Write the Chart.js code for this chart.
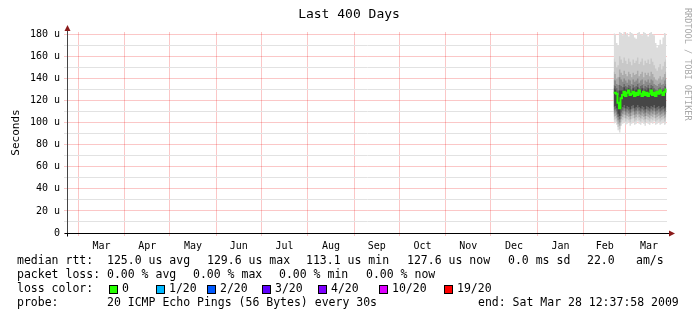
<!DOCTYPE html>
<html>
<head>
<meta charset="utf-8">
<script src="https://cdn.jsdelivr.net/npm/chart.js@4.4.0/dist/chart.umd.min.js"></script>
<style>
  body { margin: 0; background: #fff; }
  canvas { display: block; background: #fff; }
</style>
</head>
<body>
<canvas id="chart" width="697" height="321"></canvas>
<script>
// x axis: days counted from 1 Mar 2008
const xMin = -7.47
const xMax = 392.53
const yMax = 182

const monthStarts = [0, 31, 61, 92, 122, 153, 184, 214, 245, 275, 306, 337, 365, 396]
const monthLabels = ['Mar', 'Apr', 'May', 'Jun', 'Jul', 'Aug', 'Sep', 'Oct', 'Nov', 'Dec', 'Jan', 'Feb', 'Mar']

// sample days (21 Feb .. 28 Mar 2009)
const days = [357, 358, 359, 360, 361, 362, 363, 364, 365, 366, 367, 368, 369, 370, 371, 372, 373, 374,
  375, 376, 377, 378, 379, 380, 381, 382, 383, 384, 385, 386, 387, 388, 389, 390, 391, 392]

// median rtt (us)
const median = [127, 127, 126, 118, 113, 122, 125, 128, 124, 127, 129, 125, 126, 128, 124, 127, 125, 129,
  126, 124, 128, 125, 127, 124, 126, 129, 125, 127, 124, 128, 126, 129, 127, 125, 128, 130]

// smoke bands, outer to inner
const smoke1Hi = [181, 180, 172, 170, 182, 181, 179, 182, 180, 181, 178, 182, 181, 180, 177, 176, 181, 182,
  180, 179, 182, 181, 180, 178, 181, 182, 180, 179, 172, 168, 170, 175, 171, 177, 181, 180]
const smoke1Lo = [99, 100, 98, 93, 91, 97, 99, 100, 98, 99, 100, 97, 99, 100, 98, 99, 101, 99,
  98, 100, 99, 97, 100, 99, 98, 100, 99, 101, 98, 99, 100, 98, 99, 100, 98, 99]
const smoke2Hi = [158, 155, 150, 152, 160, 157, 154, 159, 156, 153, 158, 155, 152, 157, 154, 156, 159, 153,
  155, 158, 152, 156, 154, 157, 153, 158, 155, 152, 149, 147, 150, 153, 148, 151, 155, 157]
const smoke2Lo = [102, 103, 101, 96, 94, 100, 102, 104, 101, 103, 102, 100, 103, 104, 101, 102, 104, 102,
  101, 103, 102, 100, 103, 102, 101, 103, 102, 104, 101, 102, 103, 101, 102, 103, 101, 102]
const smoke3Hi = [146, 144, 140, 141, 148, 145, 143, 147, 144, 142, 146, 144, 141, 145, 143, 144, 147, 142,
  144, 146, 141, 145, 143, 145, 142, 146, 144, 141, 139, 138, 140, 142, 139, 141, 144, 146]
const smoke3Lo = [105, 106, 104, 99, 97, 103, 105, 107, 104, 106, 105, 103, 106, 107, 104, 105, 107, 105,
  104, 106, 105, 103, 106, 105, 104, 106, 105, 107, 104, 105, 106, 104, 105, 106, 104, 105]
const smoke4Hi = [139, 138, 135, 134, 141, 139, 137, 140, 138, 136, 139, 138, 135, 139, 137, 138, 140, 136,
  138, 139, 135, 138, 137, 139, 136, 139, 138, 135, 134, 133, 135, 136, 134, 135, 138, 140]
const smoke4Lo = [108, 109, 107, 102, 100, 106, 108, 110, 107, 109, 108, 106, 109, 110, 107, 108, 110, 108,
  107, 109, 108, 106, 109, 108, 107, 109, 108, 110, 107, 108, 109, 107, 108, 109, 107, 108]
const smoke5Hi = [134, 133, 131, 129, 134, 133, 132, 135, 133, 132, 134, 133, 130, 134, 132, 133, 135, 131,
  133, 134, 131, 133, 132, 134, 131, 134, 133, 131, 130, 129, 131, 132, 130, 131, 133, 135]
const smoke5Lo = [111, 112, 110, 105, 103, 109, 111, 113, 110, 112, 111, 109, 112, 113, 110, 111, 113, 111,
  110, 112, 111, 109, 112, 111, 110, 112, 111, 113, 110, 111, 112, 110, 111, 112, 110, 111]
const smoke6Hi = [131, 130, 128, 125, 129, 129, 129, 132, 130, 130, 131, 130, 128, 131, 129, 130, 132, 129,
  130, 131, 128, 130, 129, 131, 128, 131, 130, 128, 128, 127, 128, 129, 128, 129, 130, 132]
const smoke6Lo = [114, 115, 113, 108, 106, 112, 114, 116, 113, 115, 114, 112, 115, 116, 113, 114, 116, 114,
  113, 115, 114, 112, 115, 114, 113, 115, 114, 116, 113, 114, 115, 113, 114, 115, 113, 114]

const rttStats = ['125.0 us avg', '129.6 us max', '113.1 us min', '127.6 us now', '0.0 ms sd', '22.0', 'am/s']
const lossStats = ['0.00 % avg', '0.00 % max', '0.00 % min', '0.00 % now']
const lossLevels = ['0', '1/20', '2/20', '3/20', '4/20', '10/20', '19/20']
const lossColors = ['#26ff00', '#00b8ff', '#0059ff', '#5e00ff', '#7e00ff', '#dd00ff', '#ff0000']
const probeText = '20 ICMP Echo Pings (56 Bytes) every 30s'
const endText = 'end: Sat Mar 28 12:37:58 2009'

const MONO = '"DejaVu Sans Mono", monospace'
const majorGrid = 'rgba(235, 0, 0, 0.22)'
const minorGrid = '#e2e2e2'

const monthMids = {}
monthLabels.forEach((m, i) => {
  monthMids[(monthStarts[i] + monthStarts[i + 1]) / 2] = m
})

const pts = (arr) => arr.map((v, i) => ({ x: days[i], y: v }))

const smokeBands = [
  [smoke1Lo, smoke1Hi, '#dcdcdc'],
  [smoke2Lo, smoke2Hi, '#c8c8c8'],
  [smoke3Lo, smoke3Hi, '#ababab'],
  [smoke4Lo, smoke4Hi, '#8b8b8b'],
  [smoke5Lo, smoke5Hi, '#6a6a6a'],
  [smoke6Lo, smoke6Hi, '#464646'],
]

const datasets = []
smokeBands.forEach(([lo, hi, color], b) => {
  const order = 10 - b
  datasets.push({
    data: pts(lo), borderWidth: 0, pointRadius: 0, stepped: 'middle', fill: false, order,
  })
  datasets.push({
    data: pts(hi), borderWidth: 0, pointRadius: 0, stepped: 'middle',
    fill: { target: datasets.length - 1 }, backgroundColor: color, order,
  })
})
datasets.push({
  data: pts(median), borderColor: lossColors[0], borderWidth: 2, pointRadius: 0,
  stepped: 'middle', fill: false, order: 0,
})

const rrdDecor = {
  id: 'rrdDecor',
  afterDraw(chart) {
    const { ctx, chartArea } = chart
    const ax = chartArea.left + 0.5
    const ay = chartArea.bottom + 0.5
    ctx.save()

    // axis extensions and arrows
    ctx.strokeStyle = '#000'
    ctx.lineWidth = 1
    ctx.beginPath()
    ctx.moveTo(ax - 3, ay); ctx.lineTo(chartArea.right + 2, ay)
    ctx.moveTo(ax, ay); ctx.lineTo(ax, ay + 3)
    ctx.stroke()
    ctx.strokeStyle = '#444'
    ctx.beginPath()
    ctx.moveTo(ax, chartArea.top); ctx.lineTo(ax, chartArea.top - 3)
    ctx.stroke()
    ctx.fillStyle = '#8b1a1a'
    ctx.beginPath()
    ctx.moveTo(ax, chartArea.top - 7); ctx.lineTo(ax - 3, chartArea.top - 1); ctx.lineTo(ax + 3, chartArea.top - 1)
    ctx.fill()
    ctx.beginPath()
    ctx.moveTo(chartArea.right + 8, ay); ctx.lineTo(chartArea.right + 2, ay - 3); ctx.lineTo(chartArea.right + 2, ay + 3)
    ctx.fill()

    // title
    ctx.fillStyle = '#000'
    ctx.font = '13px ' + MONO
    ctx.textAlign = 'center'
    ctx.textBaseline = 'middle'
    ctx.fillText('Last 400 Days', 349, 15)

    // y title
    ctx.save()
    ctx.font = '11px ' + MONO
    ctx.translate(16, (chartArea.top + chartArea.bottom) / 2)
    ctx.rotate(-Math.PI / 2)
    ctx.fillText('Seconds', 0, 0)
    ctx.restore()

    // watermark
    ctx.save()
    ctx.fillStyle = '#a8a8a8'
    ctx.font = '8.5px ' + MONO
    ctx.textAlign = 'left'
    ctx.translate(687, 8)
    ctx.rotate(Math.PI / 2)
    ctx.fillText('RRDTOOL / TOBI OETIKER', 0, 0)
    ctx.restore()

    // legend
    ctx.font = '11.5px ' + MONO
    ctx.textAlign = 'left'
    ctx.fillStyle = '#000'
    const rows = [261, 275, 289, 303]
    ctx.fillText('median rtt:', 17, rows[0])
    const rttX = [107, 207, 306, 407, 508, 587, 636]
    rttStats.forEach((t, i) => ctx.fillText(t, rttX[i], rows[0]))
    ctx.fillText('packet loss:', 17, rows[1])
    const lossX = [107, 193, 279, 366]
    lossStats.forEach((t, i) => ctx.fillText(t, lossX[i], rows[1]))
    ctx.fillText('loss color:', 17, rows[2])
    const boxX = [109, 156, 207, 262, 318, 379, 444]
    lossLevels.forEach((t, i) => {
      ctx.fillStyle = lossColors[i]
      ctx.fillRect(boxX[i], rows[2] - 4, 9, 9)
      ctx.strokeStyle = '#000'
      ctx.strokeRect(boxX[i] + 0.5, rows[2] - 3.5, 8, 8)
      ctx.fillStyle = '#000'
      ctx.fillText(t, boxX[i] + 13, rows[2])
    })
    ctx.fillText('probe:', 17, rows[3])
    ctx.fillText(probeText, 107, rows[3])
    ctx.fillText(endText, 478, rows[3])
    ctx.restore()
  },
}

new Chart(document.getElementById('chart'), {
  type: 'line',
  data: { datasets },
  options: {
    responsive: false,
    animation: false,
    events: [],
    layout: { padding: { top: 32, right: 30, left: 0, bottom: 0 } },
    plugins: { legend: { display: false }, tooltip: { enabled: false } },
    scales: {
      x: {
        type: 'linear',
        min: xMin,
        max: xMax,
        afterBuildTicks: (s) => {
          const starts = monthStarts.filter((v) => v >= xMin && v <= xMax)
          const mids = Object.keys(monthMids).map(Number)
          s.ticks = starts.concat(mids).sort((a, b) => a - b).map((v) => ({ value: v }))
        },
        afterFit: (s) => { s.height = 88 },
        grid: {
          color: (c) => (monthStarts.includes(c.tick.value) ? majorGrid : 'transparent'),
          tickColor: (c) => (monthStarts.includes(c.tick.value) ? majorGrid : 'transparent'),
          tickLength: 3,
        },
        border: { color: '#000' },
        ticks: {
          autoSkip: false,
          maxRotation: 0,
          padding: 4,
          color: '#000',
          font: { family: MONO, size: 10 },
          callback: (v) => monthMids[v] || '',
        },
      },
      y: {
        min: 0,
        max: yMax,
        afterFit: (s) => { s.width = 67 },
        grid: {
          color: (c) => (c.tick.value % 20 === 0 ? majorGrid : minorGrid),
          tickColor: (c) => (c.tick.value % 20 === 0 ? majorGrid : minorGrid),
          tickLength: 3,
        },
        border: { color: '#444' },
        ticks: {
          stepSize: 10,
          autoSkip: false,
          includeBounds: false,
          padding: 4,
          color: '#000',
          font: { family: MONO, size: 10 },
          callback: (v) => (v % 20 === 0 ? (v === 0 ? '0' : v + ' u') : ''),
        },
      },
    },
  },
  plugins: [rrdDecor],
})
</script>
</body>
</html>
